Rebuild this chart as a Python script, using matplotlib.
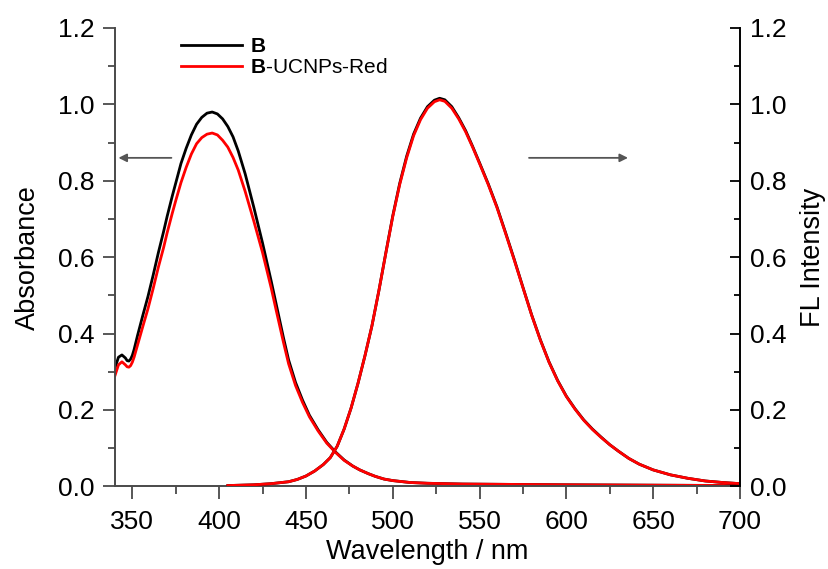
import matplotlib
matplotlib.use('Agg')
import matplotlib.pyplot as plt
from matplotlib.ticker import MultipleLocator

plt.rcParams['font.family'] = ['Liberation Sans', 'DejaVu Sans']
plt.rcParams['mathtext.fontset'] = 'custom'
plt.rcParams['mathtext.rm'] = 'Liberation Sans'
plt.rcParams['mathtext.bf'] = 'Liberation Sans:bold'

# absorbance spectra
abs_wl = [340, 342, 344, 346, 347, 348, 349, 350, 351, 353, 356, 359, 362, 365,
          368, 370, 373, 375, 378, 381, 384, 387, 390, 393, 396, 399, 402, 405,
          408, 411, 415, 420, 425, 430, 433, 437, 440, 444, 448, 452, 457, 462,
          467, 472, 477, 481, 486, 490, 495, 500, 510, 520, 540, 570, 600, 650, 700]
abs_b = [0.310, 0.338, 0.344, 0.336, 0.329, 0.328, 0.333, 0.343, 0.358, 0.395,
         0.447, 0.497, 0.553, 0.612, 0.667, 0.706, 0.760, 0.794, 0.845, 0.885,
         0.920, 0.948, 0.966, 0.977, 0.980, 0.975, 0.962, 0.942, 0.915, 0.878,
         0.818, 0.730, 0.637, 0.537, 0.474, 0.390, 0.331, 0.272, 0.226, 0.186,
         0.148, 0.115, 0.090, 0.069, 0.053, 0.043, 0.033, 0.026, 0.019, 0.015,
         0.010, 0.008, 0.006, 0.005, 0.004, 0.003, 0.002]
abs_r = [0.290, 0.318, 0.326, 0.318, 0.313, 0.312, 0.316, 0.325, 0.338, 0.370,
         0.418, 0.465, 0.518, 0.574, 0.625, 0.663, 0.715, 0.748, 0.795, 0.835,
         0.870, 0.897, 0.913, 0.922, 0.925, 0.920, 0.906, 0.888, 0.861, 0.828,
         0.772, 0.694, 0.612, 0.519, 0.458, 0.378, 0.321, 0.264, 0.220, 0.182,
         0.145, 0.113, 0.089, 0.068, 0.053, 0.043, 0.033, 0.026, 0.019, 0.015,
         0.010, 0.008, 0.006, 0.005, 0.004, 0.003, 0.002]

# fluorescence spectra
fl_wl = [405, 420, 430, 440, 445, 450, 455, 460, 464, 468, 472, 476, 480, 484,
         488, 492, 496, 500, 504, 508, 512, 516, 520, 524, 527, 530, 534, 538,
         542, 546, 550, 555, 560, 565, 570, 575, 580, 585, 590, 595, 600, 605,
         610, 615, 620, 625, 630, 636, 642, 650, 660, 670, 680, 690, 700]
fl_r = [0.002, 0.004, 0.007, 0.012, 0.018, 0.027, 0.040, 0.057, 0.075, 0.105,
        0.150, 0.205, 0.270, 0.342, 0.420, 0.512, 0.610, 0.706, 0.790, 0.860,
        0.918, 0.960, 0.990, 1.007, 1.012, 1.008, 0.990, 0.962, 0.928, 0.888,
        0.845, 0.790, 0.730, 0.662, 0.592, 0.520, 0.448, 0.383, 0.325, 0.276,
        0.235, 0.202, 0.173, 0.149, 0.128, 0.109, 0.092, 0.073, 0.058, 0.043,
        0.030, 0.021, 0.014, 0.010, 0.007]
fl_b = [0.002, 0.004, 0.007, 0.012, 0.018, 0.027, 0.040, 0.057, 0.075, 0.105,
        0.150, 0.205, 0.270, 0.342, 0.420, 0.512, 0.611, 0.708, 0.793, 0.864,
        0.922, 0.964, 0.994, 1.011, 1.016, 1.012, 0.994, 0.965, 0.931, 0.890,
        0.847, 0.792, 0.732, 0.664, 0.594, 0.521, 0.449, 0.384, 0.326, 0.277,
        0.236, 0.203, 0.174, 0.150, 0.129, 0.109, 0.092, 0.073, 0.058, 0.043,
        0.030, 0.021, 0.014, 0.010, 0.007]

fig = plt.figure(figsize=(8.29, 5.69), dpi=100)
ax = fig.add_axes([0.1387, 0.1453, 0.7539, 0.8055])
ax2 = ax.twinx()

lw = 2.0
ax.plot(abs_wl, abs_b, color='black', lw=lw, label=r'$\mathbf{B}$')
ax.plot(abs_wl, abs_r, color='#ff0000', lw=lw, label=r'$\mathbf{B}$-UCNPs-Red')
ax2.plot(fl_wl, fl_b, color='black', lw=lw)
ax2.plot(fl_wl, fl_r, color='#ff0000', lw=lw)

for a in (ax, ax2):
    a.set_xlim(340, 700)
    a.set_ylim(0, 1.2)
    a.yaxis.set_major_locator(MultipleLocator(0.2))
    a.yaxis.set_minor_locator(MultipleLocator(0.1))
    a.spines['top'].set_visible(False)
ax.xaxis.set_major_locator(MultipleLocator(50))
ax.xaxis.set_minor_locator(MultipleLocator(25))

gray = '#4a4a4a'
ax.spines['left'].set_color(gray)
ax.spines['bottom'].set_color(gray)
ax.spines['left'].set_linewidth(1.4)
ax.spines['bottom'].set_linewidth(1.4)
ax.spines['right'].set_visible(False)
ax2.spines['left'].set_visible(False)
ax2.spines['bottom'].set_visible(False)
ax2.spines['right'].set_linewidth(1.4)

ax.tick_params(axis='y', which='major', direction='out', length=9, width=1.3,
               color=gray, labelsize=19, pad=6)
ax.tick_params(axis='y', which='minor', direction='out', length=5, width=1.3, color=gray)
ax.tick_params(axis='x', which='major', direction='out', length=9, width=1.3,
               color=gray, labelsize=19, pad=8)
ax.tick_params(axis='x', which='minor', direction='out', length=5.5, width=1.3, color=gray)
ax2.tick_params(axis='y', which='major', direction='in', length=7.5, width=1.3,
                labelsize=19, pad=7)
ax2.tick_params(axis='y', which='minor', direction='in', length=4, width=1.3)

ax.yaxis.set_major_formatter(plt.FormatStrFormatter('%.1f'))
ax2.yaxis.set_major_formatter(plt.FormatStrFormatter('%.1f'))

ax.set_xlabel('Wavelength / nm', fontsize=19.5, labelpad=4)
ax.set_ylabel('Absorbance', fontsize=19.5, labelpad=12)
ax2.set_ylabel('FL Intensity', fontsize=19.5, labelpad=10)

ax.legend(loc='upper left', bbox_to_anchor=(0.093, 0.998), frameon=False,
          fontsize=15, handlelength=2.9, handletextpad=0.4, labelspacing=0.1,
          borderaxespad=0)

arrow = dict(arrowstyle='-|>', color='#555555', lw=1.3, mutation_scale=12,
             shrinkA=0, shrinkB=0)
ax.annotate('', xy=(342, 0.86), xytext=(372.5, 0.86), arrowprops=arrow)
ax.annotate('', xy=(635.5, 0.86), xytext=(578.5, 0.86), arrowprops=arrow)

fig.savefig('out.png', dpi=100)
